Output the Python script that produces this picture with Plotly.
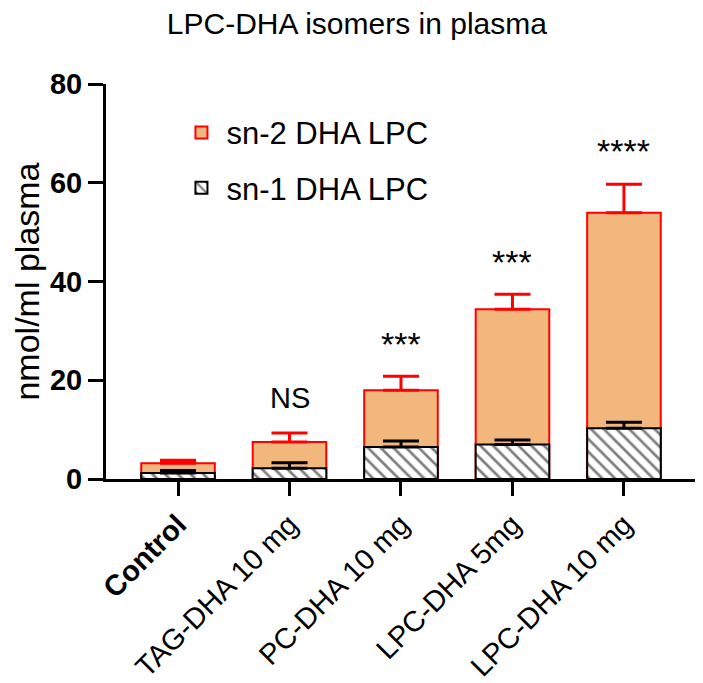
import plotly.graph_objects as go

categories = ["Control", "TAG-DHA 10 mg", "PC-DHA 10 mg", "LPC-DHA 5mg", "LPC-DHA 10 mg"]
tick_labels = ["<b>Control</b>", "TAG-DHA 10 mg", "PC-DHA 10 mg", "LPC-DHA 5mg", "LPC-DHA 10 mg"]

# sn-2 DHA LPC (bar top as drawn) and its upper error
sn2_values = [3.2, 7.5, 18.0, 34.4, 53.9]
sn2_err = [0.6, 1.8, 2.8, 3.0, 5.8]
# sn-1 DHA LPC and its upper error
sn1_values = [1.2, 2.2, 6.5, 7.0, 10.3]
sn1_err = [0.5, 1.1, 1.2, 0.9, 1.2]

sig_labels = ["", "NS", "***", "***", "****"]
sig_y = [None, 16.4, 27.4, 43.9, 66.4]

fig = go.Figure()
fig.add_trace(go.Bar(
    x=categories, y=sn2_values, name="sn-2 DHA LPC", legendgroup="sn2",
    marker=dict(color="#F2B77D", line=dict(color="#FF0000", width=2)),
    width=0.66,
    error_y=dict(type="data", array=sn2_err, arrayminus=[0]*5, symmetric=False,
                 color="#FF0000", thickness=3, width=18),
))
fig.add_trace(go.Bar(
    x=categories, y=sn1_values, name="sn-1 DHA LPC", legendgroup="sn1",
    marker=dict(color="white", line=dict(color="black", width=2),
                pattern=dict(shape="\\", fgcolor="black", bgcolor="white", size=9, solidity=0.3)),
    width=0.66,
    error_y=dict(type="data", array=sn1_err, arrayminus=[0]*5, symmetric=False,
                 color="black", thickness=3, width=18),
))

for c, lab, yy in zip(categories, sig_labels, sig_y):
    if lab:
        fig.add_annotation(x=c, y=yy, text=lab, showarrow=False,
                           font=dict(family="Arial", size=29 if lab == "NS" else 34, color="black"))

fig.update_layout(
    width=695, height=675,
    barmode="overlay",
    plot_bgcolor="white", paper_bgcolor="white",
    margin=dict(l=98, r=0, t=76, b=204, autoexpand=False),
    font=dict(family="Arial", color="black"),
    title=dict(text="LPC-DHA isomers in plasma", x=0.502, xanchor="center", xref="container",
               y=0.992, yanchor="top", yref="container",
               font=dict(size=30, family="Arial", color="black")),
    legend=dict(x=0.118, y=0.945, xanchor="left", yanchor="top",
                font=dict(size=31, family="Arial", color="black"),
                bgcolor="rgba(0,0,0,0)", tracegroupgap=12, itemwidth=40),
    showlegend=True,
)
fig.update_xaxes(
    type="category", range=[-0.646, 4.709], automargin=False,
    tickvals=categories, ticktext=tick_labels, tickangle=-45,
    tickfont=dict(size=29, family="Arial", color="black"),
    showline=True, linecolor="black", linewidth=3,
    ticks="outside", ticklen=14, tickwidth=3, tickcolor="black",
    showgrid=False, zeroline=False,
)
fig.update_yaxes(
    range=[0, 80], tickvals=[0, 20, 40, 60, 80], automargin=False,
    tickfont=dict(size=29, family="Arial", color="black", weight="bold"),
    showline=True, linecolor="black", linewidth=3,
    ticks="outside", ticklen=15, tickwidth=3, tickcolor="black",
    showgrid=False, zeroline=False,
    title=dict(text="nmol/ml plasma", font=dict(size=34, family="Arial", color="black"), standoff=4),
)

fig.write_html("out.html")
